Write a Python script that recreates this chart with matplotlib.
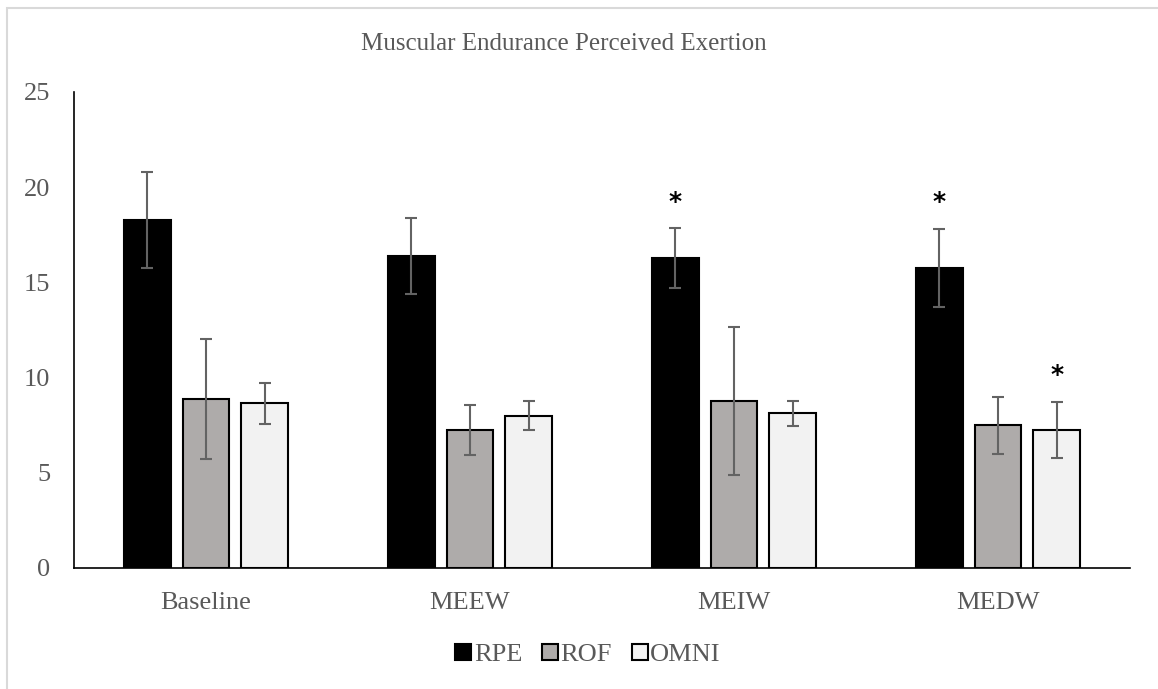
import matplotlib
import matplotlib.pyplot as plt
import numpy as np
from matplotlib.patches import Patch, Rectangle

matplotlib.use("Agg")

conditions = ["Baseline", "MEEW", "MEIW", "MEDW"]
series_names = ["RPE", "ROF", "OMNI"]

rpe_mean = [18.28, 16.40, 16.27, 15.77]
rpe_sd = [2.50, 2.00, 1.57, 2.05]
rof_mean = [8.89, 7.25, 8.77, 7.49]
rof_sd = [3.15, 1.29, 3.89, 1.50]
omni_mean = [8.65, 8.00, 8.12, 7.25]
omni_sd = [1.07, 0.76, 0.65, 1.49]

# significant differences (condition -> series marked with *)
significant = {"MEIW": ["RPE"], "MEDW": ["RPE", "OMNI"]}

TEXT_GREY = "#595959"
FONT = "Liberation Serif"


def main() -> None:
    plt.rcParams["font.family"] = [FONT, "DejaVu Sans"]

    fig = plt.figure(figsize=(11.58, 6.89), dpi=100)
    ax = fig.add_axes([74 / 1158, 1 - 568 / 689, (1130 - 74) / 1158, (568 - 92) / 689])

    means = [rpe_mean, rof_mean, omni_mean]
    sds = [rpe_sd, rof_sd, omni_sd]
    colors = ["#000000", "#AEABAA", "#F2F2F2"]

    x = np.arange(len(conditions))
    width = 0.178
    step = 0.222

    for i, name in enumerate(series_names):
        pos = x + (i - 1) * step
        ax.bar(pos, means[i], width, color=colors[i], edgecolor="black",
               linewidth=1.5, label=name, zorder=2)
        ax.errorbar(pos, means[i], yerr=sds[i], fmt="none", ecolor="#636363",
                    elinewidth=1.5, capsize=4.5, capthick=1.5, zorder=3)
        for j, cond in enumerate(conditions):
            if name in significant.get(cond, []):
                ax.annotate("*", (pos[j], means[i][j] + sds[i][j]),
                            xytext=(0, 14), textcoords="offset points",
                            ha="center", va="baseline", fontsize=18,
                            fontweight="bold", color="black", family="DejaVu Sans")

    ax.set_xlim(-0.5, len(conditions) - 0.5)
    ax.set_ylim(0, 25)
    ax.set_yticks(range(0, 26, 5))
    ax.set_xticks(x)
    ax.set_xticklabels(conditions)

    for side in ["top", "right"]:
        ax.spines[side].set_visible(False)
    ax.spines["left"].set_linewidth(1.2)
    ax.spines["bottom"].set_linewidth(1.2)
    ax.tick_params(axis="both", length=0, labelsize=19, labelcolor=TEXT_GREY)
    ax.tick_params(axis="y", pad=17)
    ax.tick_params(axis="x", pad=17)

    fig.text(564 / 1158, 1 - 44 / 689, "Muscular Endurance Perceived Exertion",
             ha="center", va="center", fontsize=18, color=TEXT_GREY)

    handles = [Patch(facecolor=c, edgecolor="black", linewidth=1.5) for c in colors]
    fig.legend(handles, series_names, loc="center", bbox_to_anchor=(588 / 1158, 1 - 655 / 689),
               ncol=3, frameon=False, handlelength=0.6, handleheight=0.6,
               handletextpad=0.1, columnspacing=0.75,
               prop={"family": FONT, "size": 19}, labelcolor=TEXT_GREY)

    # chart area border (only top/left edges fall inside the image)
    fig.patches.append(Rectangle((7.5 / 1158, -0.1), 1.2, 1.1 - 7.5 / 689,
                                 transform=fig.transFigure, fill=False,
                                 edgecolor="#D9D9D9", linewidth=1.5))

    fig.savefig("out.png", dpi=100)
    plt.close(fig)


if __name__ == "__main__":
    main()
